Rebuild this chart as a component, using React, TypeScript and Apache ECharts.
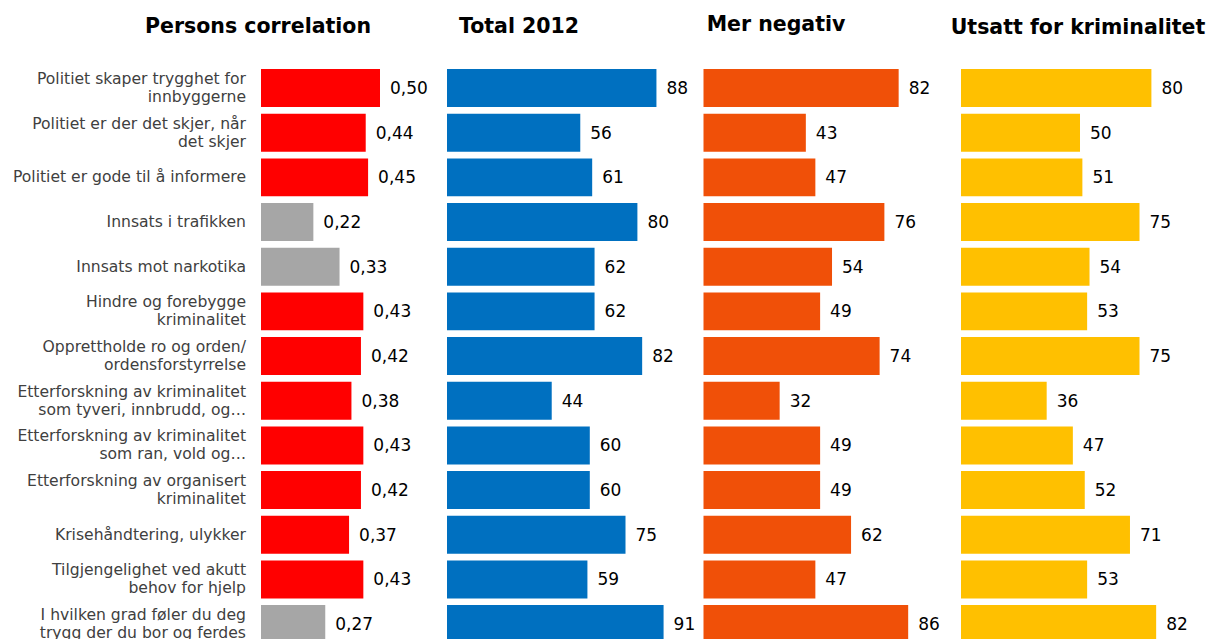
import React, { useEffect, useRef } from "react";
import * as echarts from "echarts";

const categories = [
  "Politiet skaper trygghet for\ninnbyggerne",
  "Politiet er der det skjer, når\ndet skjer",
  "Politiet er gode til å informere",
  "Innsats i trafikken",
  "Innsats mot narkotika",
  "Hindre og forebygge\nkriminalitet",
  "Opprettholde ro og orden/\nordensforstyrrelse",
  "Etterforskning av kriminalitet\nsom tyveri, innbrudd, og…",
  "Etterforskning av kriminalitet\nsom ran, vold og…",
  "Etterforskning av organisert\nkriminalitet",
  "Krisehåndtering, ulykker",
  "Tilgjengelighet ved akutt\nbehov for hjelp",
  "I hvilken grad føler du deg\ntrygg der du bor og ferdes",
];

const correlation = [0.5, 0.44, 0.45, 0.22, 0.33, 0.43, 0.42, 0.38, 0.43, 0.42, 0.37, 0.43, 0.27];
const significant = [true, true, true, false, false, true, true, true, true, true, true, true, false];
const total2012 = [88, 56, 61, 80, 62, 62, 82, 44, 60, 60, 75, 59, 91];
const merNegativ = [82, 43, 47, 76, 54, 49, 74, 32, 49, 49, 62, 47, 86];
const utsatt = [80, 50, 51, 75, 54, 53, 75, 36, 47, 52, 71, 53, 82];

const titles = ["Persons correlation", "Total 2012", "Mer negativ", "Utsatt for kriminalitet"];

export default function App() {
  const ref = useRef<HTMLDivElement>(null);
  useEffect(() => {
    if (!ref.current) return;
    const chart = echarts.init(ref.current, null, { renderer: "svg" });
    const font = "DejaVu Sans, Verdana, sans-serif";
    const top = 65.7;
    const height = 13 * 44.67;
    const lefts = [261, 447, 703.5, 961];
    const width = 238;
    const titleCenters = [258, 519, 776, 1078];
    const titleTops = [15, 15, 13, 16];
    const colors = ["#FF0000", "#0070C0", "#F05008", "#FFC000"];
    const maxes = [1, 100, 100, 100];

    const grids = lefts.map((l) => ({ left: l, top, width, height }));
    const xAxes = lefts.map((_, i) => ({
      type: "value",
      gridIndex: i,
      min: 0,
      max: maxes[i],
      show: false,
    }));
    const yAxes = lefts.map((_, i) => ({
      type: "category",
      gridIndex: i,
      data: categories,
      inverse: true,
      axisLine: { show: false },
      axisTick: { show: false },
      axisLabel: {
        show: i === 0,
        margin: 15,
        fontFamily: font,
        fontSize: 15.6,
        lineHeight: 18,
        color: "#404040",
        align: "right",
      },
    }));
    const seriesData = [
      correlation.map((v, k) => ({
        value: v,
        itemStyle: { color: significant[k] ? "#FF0000" : "#A6A6A6" },
      })),
      total2012,
      merNegativ,
      utsatt,
    ];
    const series = seriesData.map((d, i) => ({
      type: "bar",
      xAxisIndex: i,
      yAxisIndex: i,
      data: d,
      barCategoryGap: "15%",
      itemStyle: { color: colors[i] },
      label: {
        show: true,
        position: "right",
        distance: 10,
        fontFamily: font,
        fontSize: 17,
        color: "#000",
        formatter: (p: any) =>
          i === 0 ? Number(p.value).toFixed(2).replace(".", ",") : String(p.value),
      },
    }));
    const title = titles.map((t, i) => ({
      text: t,
      left: titleCenters[i],
      top: titleTops[i],
      padding: 0,
      textAlign: "center",
      textStyle: { fontFamily: font, fontSize: 20.5, fontWeight: "bold", color: "#000" },
    }));

    chart.setOption({
      animation: false,
      backgroundColor: "#fff",
      title,
      grid: grids,
      xAxis: xAxes,
      yAxis: yAxes,
      series,
    });
    return () => chart.dispose();
  }, []);
  return (
    <div
      style={{ position: "fixed", left: 0, top: 0, width: 1207, height: 639, overflow: "hidden", background: "#fff" }}
    >
      <div ref={ref} style={{ width: 1207, height: 700 }} />
    </div>
  );
}
